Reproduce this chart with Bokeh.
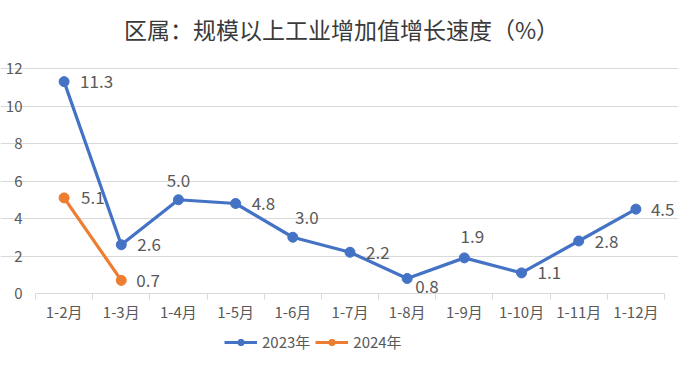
from bokeh.plotting import figure
from bokeh.models import (ColumnDataSource, FixedTicker, Legend, LegendItem, Range1d,
                          LinearAxis, Label, Grid)
from bokeh.core.properties import value
from bokeh.embed import file_html
from bokeh.resources import INLINE

# ---- data ----
categories = ["1-2月", "1-3月", "1-4月", "1-5月", "1-6月", "1-7月", "1-8月",
              "1-9月", "1-10月", "1-11月", "1-12月"]
values_2023 = [11.3, 2.6, 5.0, 4.8, 3.0, 2.2, 0.8, 1.9, 1.1, 2.8, 4.5]
values_2024 = [5.1, 0.7]
y_ticks = [0, 2, 4, 6, 8, 10, 12]
title_text = "区属：规模以上工业增加值增长速度（%）"

# ---- label placement (layout only) ----
dx_2023 = [16, 16, 0, 16, 14, 16, 8, 8, 16, 16, 15]
dy_2023 = [0, 0, -19, 0, -20, 0, 8, -21, 0, 0, 0]
al_2023 = ["left", "left", "center", "left", "center", "left", "left", "center", "left", "left", "left"]
dx_2024 = [17, 15]
dy_2024 = [0, 0]
al_2024 = ["left", "left"]

BLUE = "#4472C4"
ORANGE = "#ED7D31"
TXT = "#595959"
GRID = "#D9D9D9"
FONT = "Noto Sans CJK SC"

n = len(categories)
x23 = list(range(len(values_2023)))
x24 = list(range(len(values_2024)))

src23 = ColumnDataSource(dict(x=x23, y=values_2023, t=[f"{v:.1f}" for v in values_2023],
                              dx=dx_2023, dy=dy_2023, al=al_2023))
src24 = ColumnDataSource(dict(x=x24, y=values_2024, t=[f"{v:.1f}" for v in values_2024],
                              dx=dx_2024, dy=dy_2024, al=al_2024))

# pixel layout: plot area 35..664 px horizontally, value 12 at 68 px, 0 at 293 px
W, H = 678, 352
PL, PR = 35, 664
PT, PB = 68, 293
cw = (PR - PL) / n
yk = (PB - PT) / 12.0
x0 = -0.5 - PL / cw
x1 = -0.5 + (W - PL) / cw
y1 = 12 + PT / yk
y0 = -(H - PB) / yk

p = figure(width=W, height=H, output_backend="svg", toolbar_location=None,
           x_range=Range1d(x0, x1), y_range=Range1d(y0, y1),
           x_axis_location=None, y_axis_location=None,
           min_border=0, min_border_left=0, min_border_right=0,
           min_border_top=0, min_border_bottom=0)
p.outline_line_color = None
p.background_fill_color = "white"
p.border_fill_color = "white"
p.xgrid.grid_line_color = None
p.ygrid.grid_line_color = None

yaxis = LinearAxis(fixed_location=-0.5, ticker=FixedTicker(ticks=y_ticks))
yaxis.axis_line_color = None
yaxis.major_tick_line_color = None
yaxis.minor_tick_line_color = None
yaxis.major_label_standoff = 7
yaxis.major_label_text_font = FONT
yaxis.major_label_text_font_size = "15px"
yaxis.major_label_text_color = TXT
p.add_layout(yaxis, "left")

xaxis = LinearAxis(fixed_location=0,
                   ticker=FixedTicker(ticks=x23, minor_ticks=[i - 0.5 for i in range(n + 1)]))
xaxis.bounds = (-0.5, n - 0.5)
xaxis.major_label_overrides = {i: c for i, c in enumerate(categories)}
xaxis.axis_line_color = GRID
xaxis.major_tick_line_color = None
xaxis.major_tick_out = 0
xaxis.major_tick_in = 0
xaxis.minor_tick_line_color = GRID
xaxis.minor_tick_out = 6
xaxis.minor_tick_in = 0
xaxis.major_label_standoff = 1
xaxis.major_label_text_font = FONT
xaxis.major_label_text_font_size = "15px"
xaxis.major_label_text_color = TXT
p.add_layout(xaxis, "below")

g = Grid(dimension=1, ticker=FixedTicker(ticks=[t for t in y_ticks if t > 0]),
         grid_line_color=GRID, bounds=(-0.5, n - 0.5))
p.add_layout(g)

# series
l23 = p.line("x", "y", source=src23, line_color=BLUE, line_width=3.2)
s23 = p.scatter("x", "y", source=src23, size=10, fill_color=BLUE, line_color=BLUE)
l24 = p.line("x", "y", source=src24, line_color=ORANGE, line_width=3.2)
s24 = p.scatter("x", "y", source=src24, size=10, fill_color=ORANGE, line_color=ORANGE)

for src in (src23, src24):
    p.text("x", "y", text="t", source=src, x_offset="dx", y_offset="dy", text_align="al",
           text_baseline="middle", text_font=value(FONT), text_font_size="17px",
           text_color=TXT)

# title (placed by pixel target 341, 28)
p.add_layout(Label(x=-0.5 + (341 - PL) / cw, y=12 + (PT - 28) / yk, text=title_text,
                   text_align="center", text_baseline="middle", text_font=FONT,
                   text_font_size="23px", text_color="#3A3A3A"))

legend = Legend(items=[LegendItem(label="2023年", renderers=[l23, s23]),
                       LegendItem(label="2024年", renderers=[l24, s24])],
                orientation="horizontal", location=(224, 0),
                glyph_width=33, glyph_height=16, label_standoff=5, spacing=5,
                padding=0, margin=0, border_line_color=None, background_fill_alpha=0,
                label_text_font=FONT, label_text_font_size="15px", label_text_color=TXT)
p.add_layout(legend)

open("out.html", "w").write(file_html(p, INLINE))
